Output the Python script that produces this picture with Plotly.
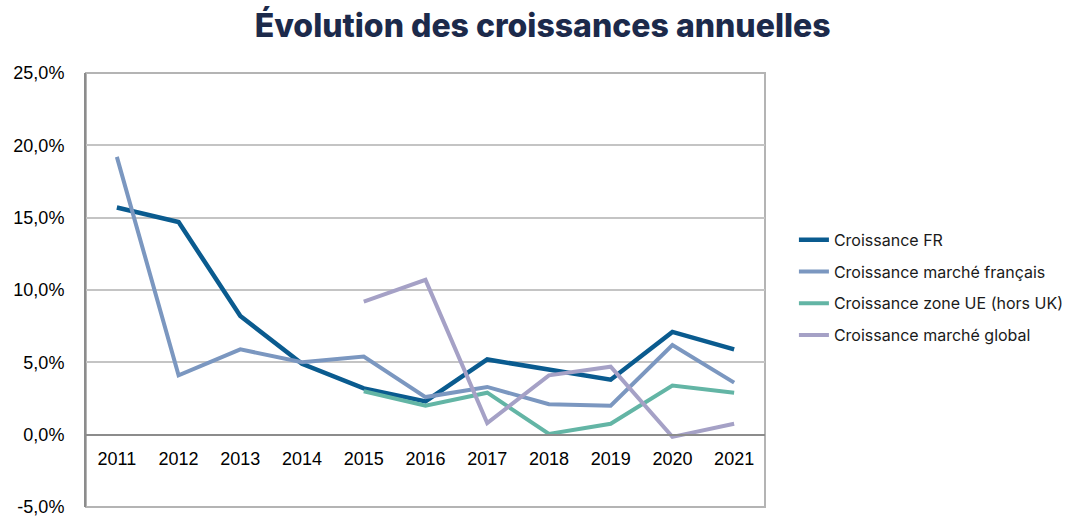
import plotly.graph_objects as go

years = ["2011", "2012", "2013", "2014", "2015", "2016", "2017", "2018", "2019", "2020", "2021"]
croissance_fr = [0.157, 0.147, 0.082, 0.049, 0.032, 0.023, 0.052, 0.045, 0.038, 0.071, 0.059]
marche_francais = [0.192, 0.041, 0.059, 0.050, 0.054, 0.026, 0.033, 0.021, 0.020, 0.062, 0.036]
zone_ue = [None, None, None, None, 0.030, 0.020, 0.029, 0.0005, 0.0075, 0.034, 0.029]
marche_global = [None, None, None, None, 0.092, 0.107, 0.008, 0.041, 0.047, -0.0015, 0.0075]

y_tickvals = [-0.05, 0.0, 0.05, 0.10, 0.15, 0.20, 0.25]
y_ticktext = ["-5,0%", "0,0%", "5,0%", "10,0%", "15,0%", "20,0%", "25,0%"]

series = [
    ("Croissance FR", croissance_fr, "#0a5b8f"),
    ("Croissance marché français", marche_francais, "#7b97c0"),
    ("Croissance zone UE (hors UK)", zone_ue, "#63b5a5"),
    ("Croissance marché global", marche_global, "#a5a1c6"),
]

fig = go.Figure()
for i, (name, vals, color) in enumerate(series):
    fig.add_trace(go.Scatter(
        x=years, y=vals, name=name, mode="lines",
        line=dict(color=color, width=4.5 if i == 0 else 4),
        legendgroup=f"g{i}", connectgaps=False,
    ))

fig.update_layout(
    width=1081, height=529,
    margin=dict(l=86, r=314, t=73, b=22),
    paper_bgcolor="white", plot_bgcolor="white",
    title=dict(
        text="Évolution des croissances annuelles",
        x=0.502, xanchor="center", xref="container",
        y=1 - 26 / 529, yanchor="middle", yref="container",
        font=dict(family="Inter", size=32, color="#1c2a4b", weight=800),
    ),
    showlegend=True,
    legend=dict(
        x=1.0426, xanchor="left", y=0.655, yanchor="top",
        font=dict(family="Inter", size=16, color="#1a1a1a"),
        tracegroupgap=8, bgcolor="rgba(0,0,0,0)",
        itemwidth=30,
    ),
    font=dict(family="Liberation Sans, Arial", size=18, color="#000000"),
)

fig.update_xaxes(
    type="category", anchor="free", position=1 / 6,
    showline=True, linecolor="#8c8c8c", linewidth=2,
    showgrid=False, ticks="", ticklabelstandoff=8,
    tickfont=dict(family="Liberation Sans, Arial", size=18, color="#000000"),
    range=[-0.5, 10.5], zeroline=False, fixedrange=True,
)
fig.update_yaxes(
    range=[-0.05, 0.25], tickvals=y_tickvals, ticktext=y_ticktext,
    showgrid=True, gridcolor="#c4c4c4", gridwidth=1.5,
    showline=True, linecolor="#8c8c8c", linewidth=2, mirror=False,
    zeroline=False, ticks="", ticklabelstandoff=16,
    tickfont=dict(family="Liberation Sans, Arial", size=18, color="#000000"),
    fixedrange=True,
)

fig.add_shape(
    type="rect", xref="x domain", yref="y domain",
    x0=0, x1=1, y0=0, y1=1,
    line=dict(color="#b4b4b4", width=2), layer="below",
)

fig.write_html("out.html")
